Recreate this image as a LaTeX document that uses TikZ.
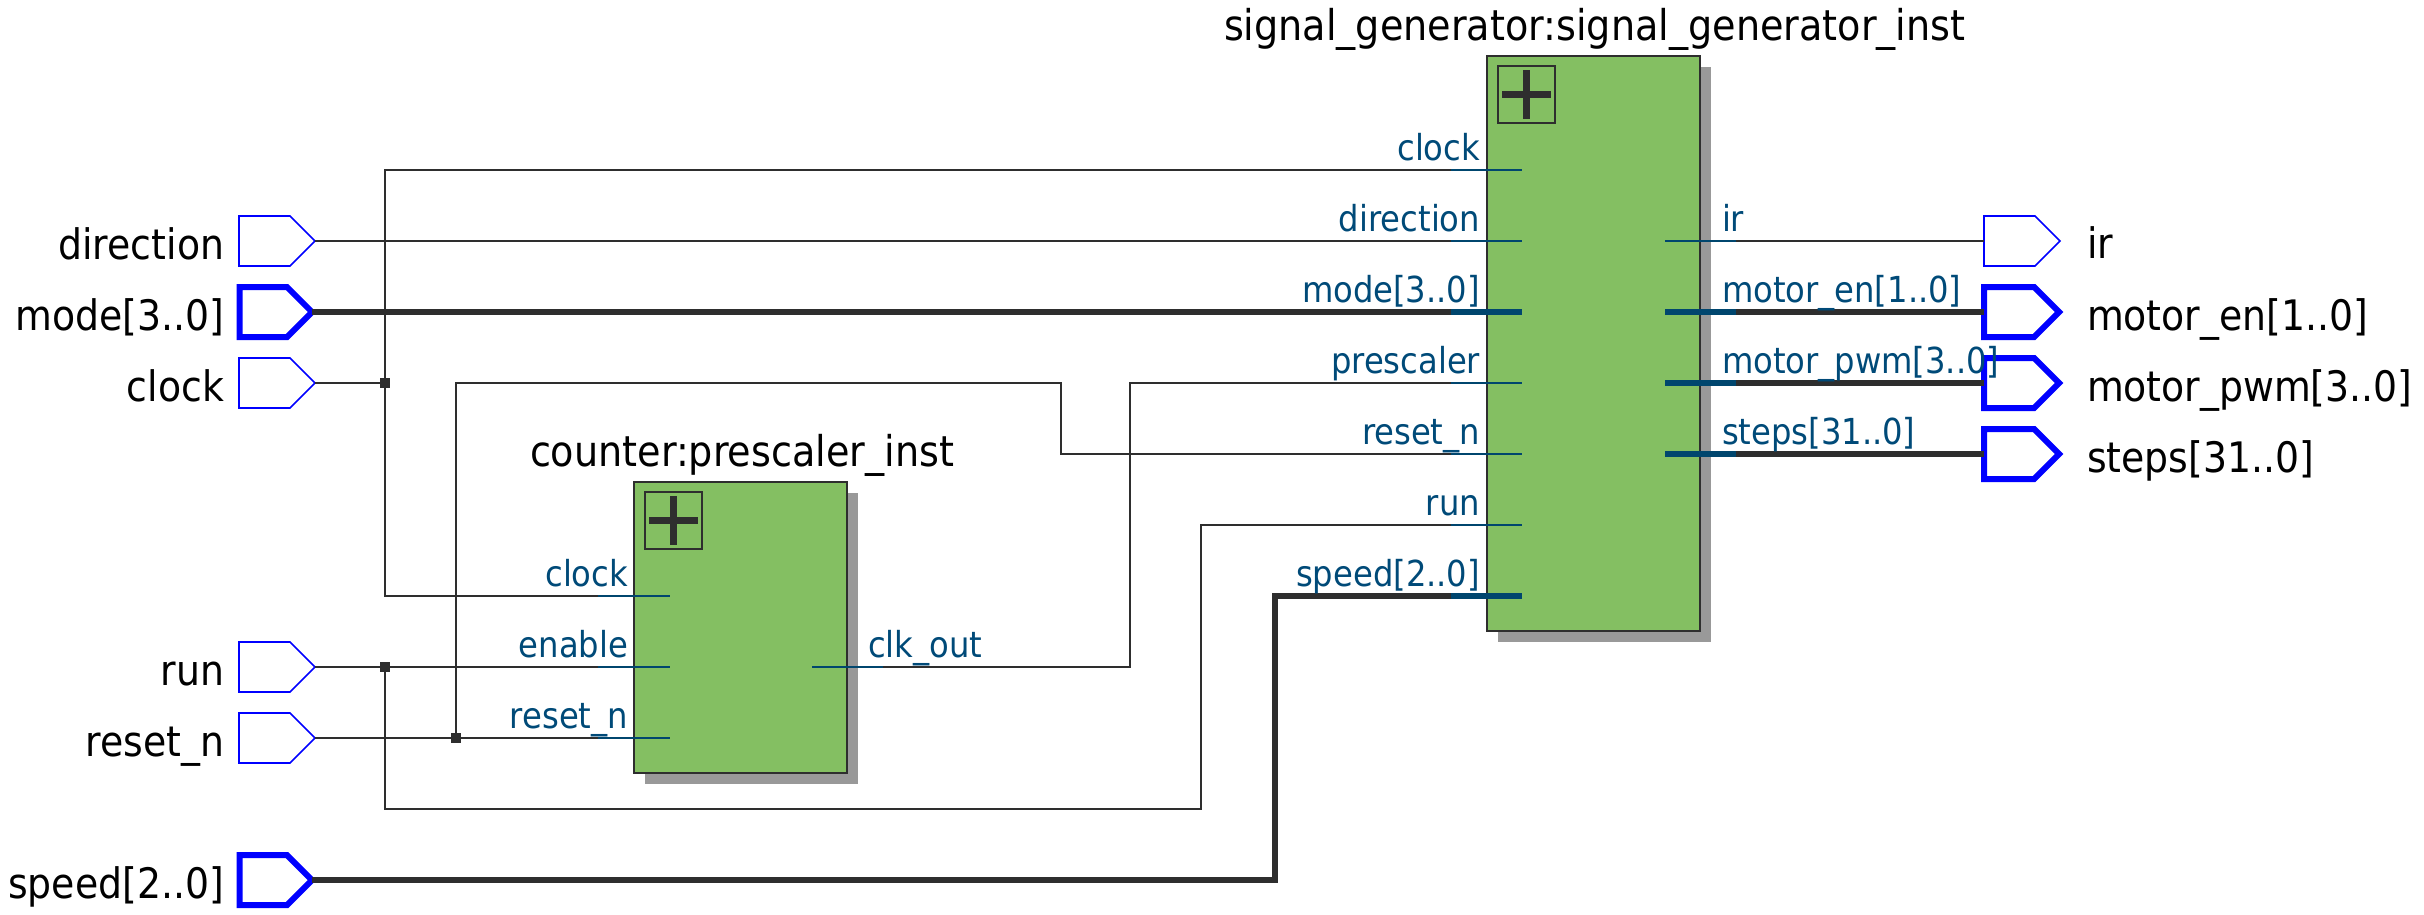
\documentclass[tikz,border=0pt]{standalone}
\usepackage{fontspec}
\setmainfont{DejaVu Sans Condensed}
\usetikzlibrary{shapes.symbols}
\definecolor{wirecol}{HTML}{2E2E2E}
\definecolor{stubcol}{HTML}{00466E}
\definecolor{portcol}{HTML}{004A78}
\definecolor{blockcol}{HTML}{84BF62}
\definecolor{shadowcol}{HTML}{999999}
\definecolor{pincol}{HTML}{0000FF}
\tikzset{
  pinbase/.style={shape=signal,signal to=east,signal pointer angle=90,draw=pincol,fill=white,inner sep=0pt,outer sep=0pt,minimum height=50pt,line join=miter,anchor=west},
  pinthin/.style={pinbase,line width=1.6pt,minimum width=76pt},
  pinbus/.style={pinbase,line width=6pt,minimum width=75pt},
  pinbusin/.style={pinbase,line width=6pt,minimum width=72.5pt},
  wire/.style={draw=wirecol,line width=1.6pt},
  bus/.style={draw=wirecol,line width=6.5pt},
  stub/.style={draw=stubcol,line width=1.6pt},
  busstub/.style={draw=stubcol,line width=6.5pt},
  dot/.style={draw=none,fill=wirecol,minimum size=10pt,inner sep=0pt,outer sep=0pt},
  block/.style={draw=wirecol,fill=blockcol,line width=2pt,inner sep=0pt,outer sep=0pt,anchor=north west},
  blockshadow/.style={draw=none,fill=shadowcol,inner sep=0pt,outer sep=0pt,anchor=north west},
  plusbox/.style={draw=wirecol,line width=1.8pt,inner sep=0pt,outer sep=0pt,minimum size=57pt},
  pinlabel/.style={inner sep=0pt,outer sep=0pt,text=black,font=\fontsize{42}{44}\selectfont},
  title/.style={inner sep=0pt,outer sep=0pt,text=black,anchor=base west,font=\fontsize{42.4}{44}\selectfont},
  portlabel/.style={inner sep=0pt,outer sep=0pt,text=portcol,font=\fontsize{35.8}{38}\selectfont},
}
\begin{document}
\begin{tikzpicture}[x=1pt,y=-1pt]
\useasboundingbox (0,0) rectangle (2424,914);
% blocks
\node[blockshadow,minimum width=213pt,minimum height=291pt] (cntshadow) at (645,493) {};
\node[blockshadow,minimum width=213pt,minimum height=575pt] (genshadow) at (1498,67) {};
\node[block,minimum width=213pt,minimum height=291pt] (cnt) at (634,482) {};
\node[block,minimum width=213pt,minimum height=575pt] (gen) at (1487,56) {};
\node[plusbox] (cntplus) at (673.5,520.5) {};
\node[plusbox] (genplus) at (1526.5,94.5) {};
\foreach \p in {cntplus,genplus}{
  \draw[wirecol,line width=7pt] (\p.center) ++(-24.5,0) -- ++(49,0);
  \draw[wirecol,line width=7pt] (\p.center) ++(0,-24.5) -- ++(0,49);
}
% pins
\node[pinthin] (pdirection) at (239,241) {};
\node[pinbusin] (pmode) at (239.5,312) {};
\node[pinthin] (pclock) at (239,383) {};
\node[pinthin] (prun) at (239,667) {};
\node[pinthin] (preset) at (239,738) {};
\node[pinbusin] (pspeed) at (239.5,880) {};
\node[pinthin] (pir) at (1984,241) {};
\node[pinbus] (pen) at (1984,312) {};
\node[pinbus] (ppwm) at (1984,383) {};
\node[pinbus] (psteps) at (1984,454) {};
% coordinates: port stub ends
\foreach \n/\y in {clock/170,direction/241,mode/312,prescaler/383,resetn/454,run/525,speed/596}{
  \coordinate (gi\n) at (1451,\y);
  \coordinate (ge\n) at (1522,\y);
}
\foreach \n/\y in {ir/241,en/312,pwm/383,steps/454}{
  \coordinate (go\n) at (1736,\y);
  \coordinate (gs\n) at (1665,\y);
}
\foreach \n/\y in {clock/596,enable/667,resetn/738}{
  \coordinate (ci\n) at (598,\y);
  \coordinate (ce\n) at (670,\y);
}
\coordinate (coout) at (883,667);
\coordinate (csout) at (812,667);
% junctions and bends
\coordinate (jclock) at (385,383);
\coordinate (jrun) at (385,667);
\coordinate (jreset) at (456,738);
\coordinate (rtop) at (456,383);
\coordinate (rmid) at (1061,383);
\coordinate (rbot) at (1061,454);
\coordinate (ctop) at (385,170);
\coordinate (cbot) at (385,596);
\coordinate (ob) at (1130,667);
\coordinate (ot) at (1130,383);
\coordinate (rl) at (385,809);
\coordinate (rr) at (1201,809);
\coordinate (ru) at (1201,525);
\coordinate (sb) at (1275,880);
\coordinate (st) at (1275,596);
% wires
\draw[wire] (pdirection.east) -- (gidirection);
\draw[wire] (pclock.east) -- (jclock);
\draw[wire] (ciclock) -- (cbot) -- (ctop) -- (giclock);
\draw[wire] (prun.east) -- (cienable);
\draw[wire] (jrun) -- (rl) -- (rr) -- (ru) -- (girun);
\draw[wire] (preset.east) -- (ciresetn);
\draw[wire] (jreset) -- (rtop) -- (rmid) -- (rbot) -- (giresetn);
\draw[wire] (coout) -- (ob) -- (ot) -- (giprescaler);
\draw[wire] (pir.west) -- (goir);
\draw[bus] (pmode.east) -- (gimode);
\draw[bus,line join=miter] (pspeed.east) -- (sb) -- (st) -- (gispeed);
\draw[bus] (pen.west) -- (goen);
\draw[bus] (ppwm.west) -- (gopwm);
\draw[bus] (psteps.west) -- (gosteps);
\node[dot] (dclock) at (jclock) {};
\node[dot] (drun) at (jrun) {};
\node[dot] (dreset) at (jreset) {};
% stubs
\foreach \n in {clock,direction,prescaler,resetn,run}{\draw[stub] (gi\n) -- (ge\n);}
\foreach \n in {mode,speed}{\draw[busstub] (gi\n) -- (ge\n);}
\draw[stub] (gsir) -- (goir);
\foreach \n in {en,pwm,steps}{\draw[busstub] (gs\n) -- (go\n);}
\foreach \n in {clock,enable,resetn}{\draw[stub] (ci\n) -- (ce\n);}
\draw[stub] (csout) -- (coout);
% titles
\node[title] (tcnt) at (530,466) {counter:prescaler\_inst};
\node[title] (tgen) at (1224,40) {signal\_generator:signal\_generator\_inst};
% pin labels
\node[pinlabel,anchor=base east] (ldirection) at (224,259) {direction};
\node[pinlabel,anchor=base east] (lmode) at (224,330) {mode[3..0]};
\node[pinlabel,anchor=base east] (lclock) at (224,401) {clock};
\node[pinlabel,anchor=base east] (lrun) at (224,685) {run};
\node[pinlabel,anchor=base east] (lreset) at (224,756) {reset\_n};
\node[pinlabel,anchor=base east] (lspeed) at (224,898) {speed[2..0]};
\node[pinlabel,anchor=base west] (lir) at (2087,258) {ir};
\node[pinlabel,anchor=base west] (len) at (2087,330) {motor\_en[1..0]};
\node[pinlabel,anchor=base west] (lpwm) at (2087,401) {motor\_pwm[3..0]};
\node[pinlabel,anchor=base west] (lsteps) at (2087,472) {steps[31..0]};
% port labels
\node[portlabel,anchor=base east] at (1480,160) {clock};
\node[portlabel,anchor=base east] at (1480,231) {direction};
\node[portlabel,anchor=base east] at (1480,302) {mode[3..0]};
\node[portlabel,anchor=base east] at (1480,373) {prescaler};
\node[portlabel,anchor=base east] at (1480,444) {reset\_n};
\node[portlabel,anchor=base east] at (1480,515) {run};
\node[portlabel,anchor=base east] at (1480,586) {speed[2..0]};
\node[portlabel,anchor=base west] at (1722,231) {ir};
\node[portlabel,anchor=base west] at (1722,302) {motor\_en[1..0]};
\node[portlabel,anchor=base west] at (1722,373) {motor\_pwm[3..0]};
\node[portlabel,anchor=base west] at (1722,444) {steps[31..0]};
\node[portlabel,anchor=base east] at (628,586) {clock};
\node[portlabel,anchor=base east] at (628,657) {enable};
\node[portlabel,anchor=base east] at (628,728) {reset\_n};
\node[portlabel,anchor=base west] at (868,657) {clk\_out};
\end{tikzpicture}
\end{document}
